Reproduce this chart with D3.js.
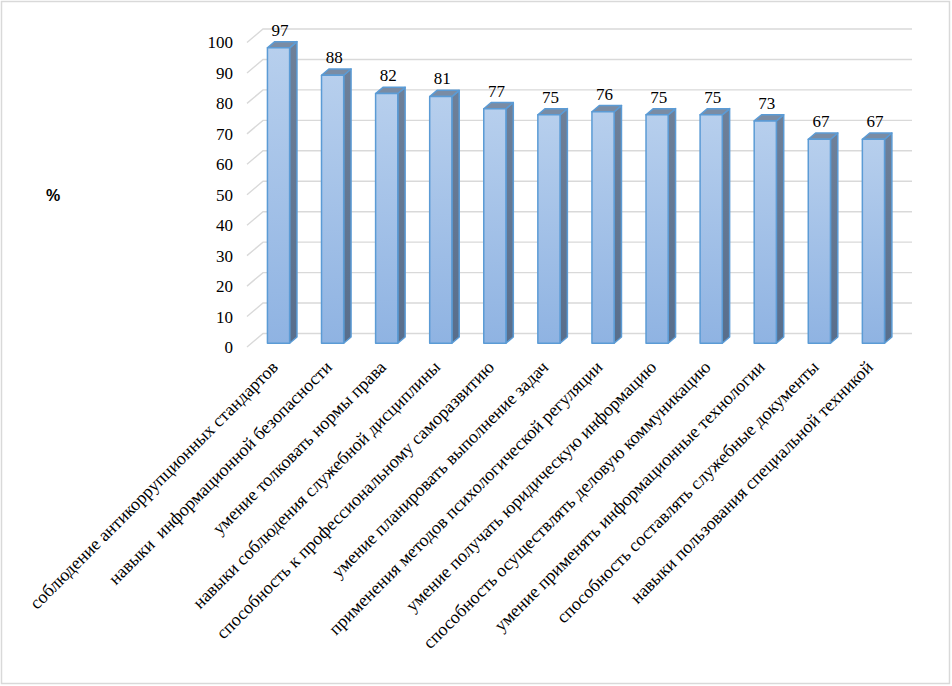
<!DOCTYPE html>
<html>
<head>
  <meta charset="UTF-8">
  <title>skills chart</title>
  <style>
    body { margin:0; background:#fff; }
    svg { display:block; }
    .serif { font-family: 'Liberation Serif', 'Times New Roman', Tinos, 'DejaVu Serif', serif; font-size:17px; }
    .cat { white-space: pre; font-size:18px; }
  </style>
</head>
<body>
<script src="https://cdn.jsdelivr.net/npm/d3@7"></script>
<svg width="952" height="686"></svg>
<script>
const categories = [
  'соблюдение антикоррупционных стандартов',
  'навыки  информационной безопасности',
  'умение толковать нормы права',
  'навыки соблюдения служебной дисциплины',
  'способность к профессиональному саморазвитию',
  'умение планировать выполнение задач',
  'применения методов психологической регуляции',
  'умение получать юридическую информацию',
  'способность осуществлять деловую коммуникацию',
  'умение применять информационные технологии',
  'способность составлять служебные документы',
  'навыки пользования специальной техникой'
];
const values = [97, 88, 82, 81, 77, 75, 76, 75, 75, 73, 67, 67];
const yTicks = [0, 10, 20, 30, 40, 50, 60, 70, 80, 90, 100];

const svg = d3.select('svg');
const depth = {dx:16, dy:-13.5};   // floor depth offset
const z0 = 0.28, z1 = 0.74;        // bar front/back in depth units

const x = d3.scaleBand().domain(categories).range([247, 896]);
const y = d3.scaleLinear().domain([0, 100]).range([347, 42.5]);

// project front-plane point to depth z
const P = (px, py, z) => [px + z*depth.dx, py + z*depth.dy];
const pts = a => a.map(p => p.join(',')).join(' ');

// outer border
svg.append('rect').attr('x',1.5).attr('y',1.5).attr('width',948).attr('height',682)
  .attr('fill','none').attr('stroke','#d9d9d9').attr('stroke-width',1.5);

const defs = svg.append('defs');
const gFront = defs.append('linearGradient').attr('id','gFront').attr('x1',0).attr('y1',0).attr('x2',0).attr('y2',1);
gFront.append('stop').attr('offset','0%').attr('stop-color','#b7cfed');
gFront.append('stop').attr('offset','100%').attr('stop-color','#8fb3e2');
const gSide = defs.append('linearGradient').attr('id','gSide').attr('x1',0).attr('y1',0).attr('x2',0).attr('y2',1);
gSide.append('stop').attr('offset','0%').attr('stop-color','#6e8099');
gSide.append('stop').attr('offset','100%').attr('stop-color','#586e8c');

// gridlines: back wall + left side diagonal
const x0 = x.range()[0], x1 = x.range()[1];
const grid = svg.append('g').attr('stroke','#d9d9d9').attr('stroke-width',1.4).attr('fill','none');
yTicks.forEach(t => {
  grid.append('polyline').attr('points', pts([P(x0, y(t), 0), P(x0, y(t), 1), P(x1, y(t), 1)]));
});

// y tick labels
svg.append('g').selectAll('text').data(yTicks).join('text')
  .attr('class','serif')
  .attr('x', 233).attr('y', d => y(d)).attr('dy','0.35em')
  .attr('text-anchor','end')
  .text(d => d);

// axis title
svg.append('text').attr('x', 53).attr('y', 195).attr('dy','0.35em').attr('text-anchor','middle')
  .style('font-family','Arial, "Liberation Sans", sans-serif').style('font-size','16px').style('font-weight','bold')
  .text('%');

// bars
const w = x.bandwidth()*0.41;
const bars = svg.append('g').selectAll('g').data(categories).join('g');
bars.each(function(c, i) {
  const g = d3.select(this);
  const xc = x(c) + x.bandwidth()/2, xl = xc - w/2, xr = xc + w/2;
  const yt = y(values[i]), yb = y(0);
  g.append('polygon').attr('points', pts([P(xr,yt,z0), P(xr,yt,z1), P(xr,yb,z1), P(xr,yb,z0)]))
    .attr('fill','url(#gSide)').attr('stroke','#5b9bd5').attr('stroke-width',1.5).attr('stroke-linejoin','round');
  g.append('polygon').attr('points', pts([P(xl,yt,z0), P(xr,yt,z0), P(xr,yt,z1), P(xl,yt,z1)]))
    .attr('fill','#7a8ca4').attr('stroke','#5b9bd5').attr('stroke-width',1.5).attr('stroke-linejoin','round');
  g.append('polygon').attr('points', pts([P(xl,yt,z0), P(xr,yt,z0), P(xr,yb,z0), P(xl,yb,z0)]))
    .attr('fill','url(#gFront)').attr('stroke','#5b9bd5').attr('stroke-width',1.5).attr('stroke-linejoin','round');
  const lp = P(xc, yt, z1);
  g.append('text').attr('class','serif').attr('x', xc + 6).attr('y', lp[1] - 6).attr('text-anchor','middle')
    .text(values[i]);
});

// category labels, rotated
svg.append('g').selectAll('text').data(categories).join('text')
  .attr('class','serif cat')
  .attr('text-anchor','end')
  .attr('transform', d => { const p = P(x(d) + x.bandwidth()/2, 360, 0.5); return `translate(${p[0]-3},${p[1]+15}) rotate(-45)`; })
  .text(d => d);
</script>
</body>
</html>
